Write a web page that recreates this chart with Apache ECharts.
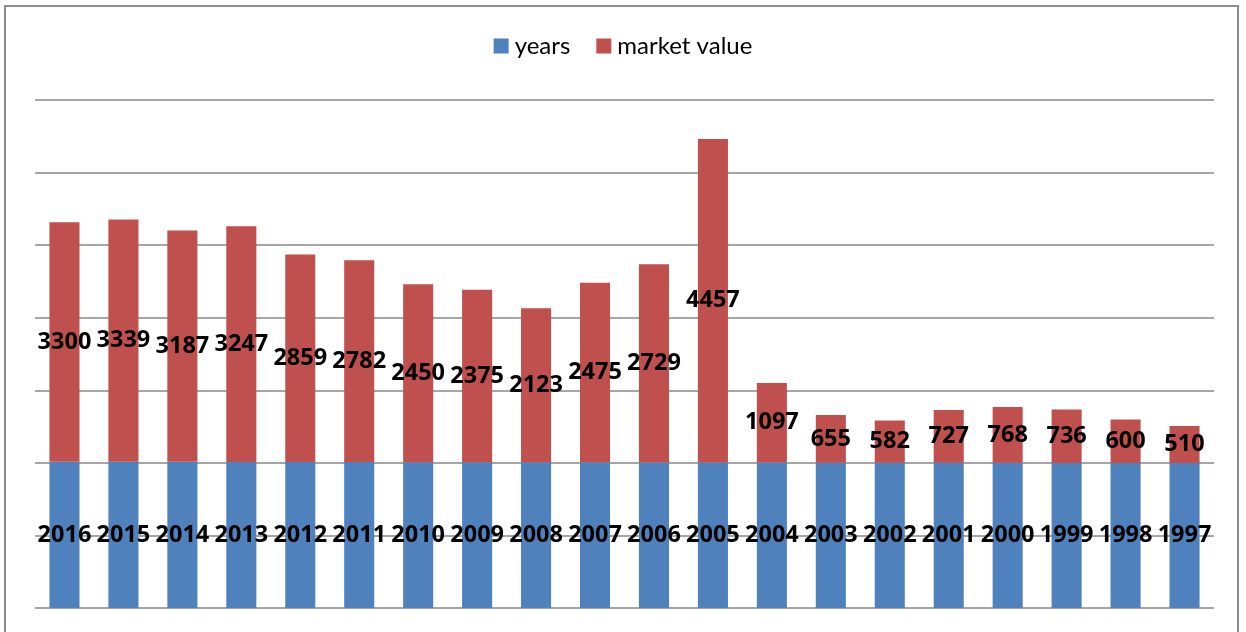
<!DOCTYPE html>
<html>
<head>
<meta charset="utf-8">
<script src="https://cdn.jsdelivr.net/npm/echarts@6/dist/echarts.min.js"></script>
<style>
  html, body { margin: 0; padding: 0; background: #fff; }
  #chart { width: 1246px; height: 632px; }
</style>
</head>
<body>
<div id="chart"></div>
<script>
const categories = ['2016', '2015', '2014', '2013', '2012', '2011', '2010', '2009', '2008', '2007',
  '2006', '2005', '2004', '2003', '2002', '2001', '2000', '1999', '1998', '1997']
const years = [2016, 2015, 2014, 2013, 2012, 2011, 2010, 2009, 2008, 2007,
  2006, 2005, 2004, 2003, 2002, 2001, 2000, 1999, 1998, 1997]
const marketValue = [3300, 3339, 3187, 3247, 2859, 2782, 2450, 2375, 2123, 2475,
  2729, 4457, 1097, 655, 582, 727, 768, 736, 600, 510]

const chart = echarts.init(document.getElementById('chart'))

// bold labels in the middle of each segment
const labelStyle = {
  show: true,
  position: 'inside',
  color: '#000',
  fontFamily: 'Open Sans',
  fontWeight: 'bold',
  fontSize: 23.5
}

chart.setOption({
  animation: false,
  backgroundColor: '#fff',
  textStyle: { fontFamily: 'Lato' },
  graphic: [{
    type: 'rect',
    shape: { x: 5, y: 6, width: 1233, height: 640 },
    style: { fill: 'none', stroke: '#8c8c8c', lineWidth: 2 },
    silent: true
  }],
  legend: {
    top: 29,
    left: 'center',
    itemWidth: 15,
    itemHeight: 15,
    itemGap: 26,
    icon: 'rect',
    textStyle: { fontSize: 24, color: '#000', fontFamily: 'Lato', padding: [0, 0, 0, 1] },
    data: ['years', 'market value']
  },
  grid: { left: 35, right: 32, top: 100, bottom: 24 },
  xAxis: {
    type: 'category',
    data: categories,
    axisLine: { show: false },
    axisTick: { show: false },
    axisLabel: { show: false }
  },
  yAxis: {
    type: 'value',
    min: 0, max: 7000, interval: 1000,
    axisLine: { show: false },
    axisTick: { show: false },
    axisLabel: { show: false },
    splitLine: { show: true, lineStyle: { color: '#888', width: 1.5 } }
  },
  series: [
    {
      name: 'years',
      type: 'bar',
      stack: 'total',
      data: years,
      barWidth: '51%',
      itemStyle: { color: '#4F81BD' },
      label: labelStyle
    },
    {
      name: 'market value',
      type: 'bar',
      stack: 'total',
      data: marketValue,
      barWidth: '51%',
      itemStyle: { color: '#C0504D' },
      label: labelStyle
    }
  ]
})
</script>
</body>
</html>
